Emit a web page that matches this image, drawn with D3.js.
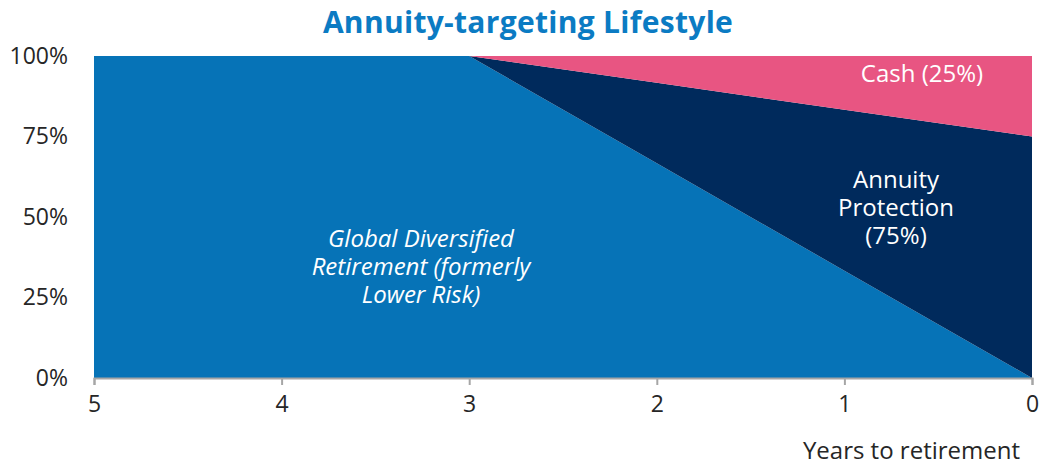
<!DOCTYPE html>
<html>
<head>
<meta charset="utf-8">
<script src="https://cdn.jsdelivr.net/npm/d3@7"></script>
<style>
  body { margin: 0; background: #fff; }
  text { font-family: "Open Sans", "Noto Sans", sans-serif; }
</style>
</head>
<body>
<script>
// years to retirement and the share held in each fund (%)
let years = [5, 4, 3, 2, 1, 0];
let globalDiversified = [100, 100, 100, 66.67, 33.33, 0];
let annuityProtection = [0, 0, 0, 25, 50, 75];
let cash = [0, 0, 0, 8.33, 16.67, 25];
let yTicks = [0, 25, 50, 75, 100];

let w = 1044;
let h = 465;
let plotLeft = 94, plotRight = 1032, plotTop = 56, plotBottom = 378;

let svg = d3.select("body")
    .append("svg")
    .attr("width", w)
    .attr("height", h);

let x = d3.scaleLinear().domain([5, 0]).range([plotLeft, plotRight]);
let y = d3.scaleLinear().domain([0, 100]).range([plotBottom, plotTop]);

// build rows for the stack
let rows = years.map(function(d, i) {
    return { year: d, global: globalDiversified[i], annuity: annuityProtection[i], cash: cash[i] };
});
let stack = d3.stack().keys(["global", "annuity", "cash"]);
let series = stack(rows);
let colors = { global: "#0673b7", annuity: "#002a5c", cash: "#e85582" };

let area = d3.area()
    .x(function(d) { return x(d.data.year); })
    .y0(function(d) { return y(d[0]); })
    .y1(function(d) { return y(d[1]); });

svg.selectAll("path.layer")
    .data(series)
    .enter()
    .append("path")
    .attr("class", "layer")
    .attr("d", area)
    .attr("fill", function(d) { return colors[d.key]; });

// title
svg.append("text")
    .attr("x", 528)
    .attr("y", 33)
    .attr("text-anchor", "middle")
    .attr("fill", "#0b7bc3")
    .style("font-size", "30px")
    .style("font-weight", "bold")
    .style("letter-spacing", "0.3px")
    .text("Annuity-targeting Lifestyle");

// x axis
let xAxis = svg.append("g")
    .attr("transform", "translate(0," + plotBottom + ")")
    .call(d3.axisBottom(x).tickValues(years).tickSize(7).tickPadding(11)
        .tickFormat(d3.format("d")));
xAxis.select(".domain").attr("stroke", "#a6a6a6").attr("stroke-width", 2);
xAxis.selectAll(".tick line").attr("stroke", "#a6a6a6").attr("stroke-width", 2);
xAxis.selectAll(".tick text")
    .attr("fill", "#262626")
    .style("font-size", "23px")
    .style("font-family", "'Open Sans', sans-serif");

// y axis (labels only)
let yAxis = svg.append("g")
    .attr("transform", "translate(" + plotLeft + ",0)")
    .call(d3.axisLeft(y).tickValues(yTicks).tickSize(0).tickPadding(26)
        .tickFormat(function(d) { return d + "%"; }));
yAxis.select(".domain").remove();
yAxis.selectAll(".tick text")
    .attr("fill", "#262626")
    .style("font-size", "23px")
    .style("font-family", "'Open Sans', sans-serif");

svg.append("text")
    .attr("x", 1020)
    .attr("y", 459)
    .attr("text-anchor", "end")
    .attr("fill", "#262626")
    .style("font-size", "24px")
    .text("Years to retirement");

// area labels
function label(lines, cx, cy, italic) {
    let t = svg.append("text")
        .attr("text-anchor", "middle")
        .attr("fill", "#fff")
        .style("font-size", "24px")
        .style("font-style", italic ? "italic" : "normal");
    lines.forEach(function(s, i) {
        t.append("tspan").attr("x", cx).attr("y", cy + i * 28).text(s);
    });
}
label(["Global Diversified", "Retirement (formerly", "Lower Risk)"], 421, 247, true);
label(["Annuity", "Protection", "(75%)"], 896, 188, false);
label(["Cash (25%)"], 922, 82, false);
</script>
</body>
</html>
